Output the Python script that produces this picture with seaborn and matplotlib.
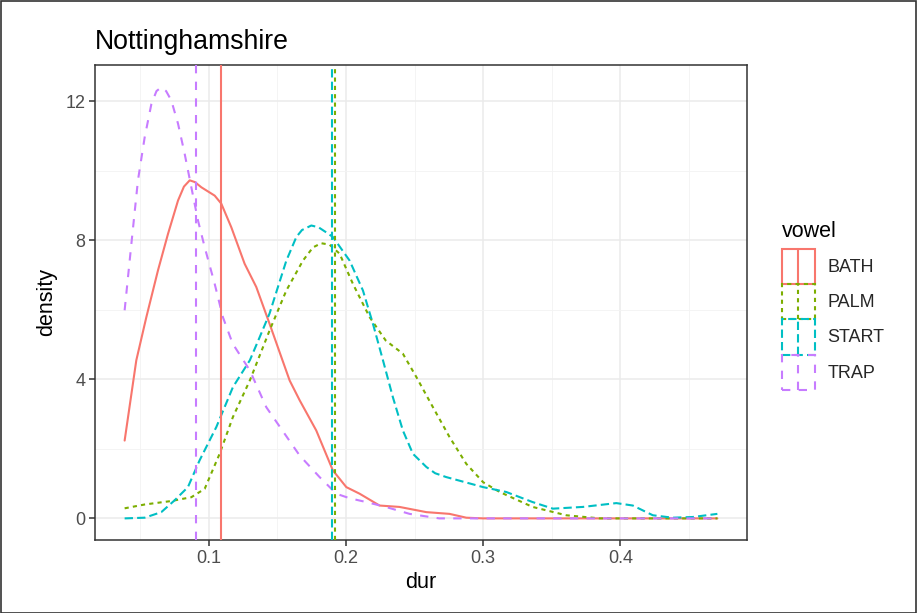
import numpy as np
import pandas as pd
import matplotlib
matplotlib.use("Agg")
import matplotlib.pyplot as plt
import seaborn as sns
from matplotlib.legend_handler import HandlerBase
from matplotlib.patches import Rectangle
from matplotlib.lines import Line2D

# ---------------- data ----------------
vowels = ["BATH", "PALM", "START", "TRAP"]
colors = ["#F8766D", "#7CAE00", "#00BFC4", "#C77CFF"]

bath_x = [0.0388, 0.0473, 0.0546, 0.0631, 0.0704, 0.0777, 0.082, 0.0862, 0.09, 0.0947,
          0.1044, 0.1092, 0.1165, 0.1262, 0.1347, 0.1444, 0.152, 0.159, 0.1663, 0.1784,
          0.1905, 0.2003, 0.21, 0.2245, 0.239, 0.2586, 0.2755, 0.2877, 0.30, 0.35,
          0.40, 0.4706]
bath_y = [2.24, 4.55, 5.79, 7.14, 8.19, 9.15, 9.55, 9.73, 9.68, 9.53,
          9.29, 9.06, 8.38, 7.33, 6.66, 5.60, 4.75, 3.97, 3.40, 2.53,
          1.38, 0.90, 0.71, 0.37, 0.33, 0.18, 0.13, 0.02, 0.0, 0.0,
          0.0, 0.0]

palm_x = [0.0388, 0.0534, 0.0728, 0.0874, 0.0971, 0.108, 0.1177, 0.13, 0.1444, 0.1566,
          0.1687, 0.176, 0.182, 0.188, 0.1954, 0.2051, 0.2173, 0.229, 0.2415, 0.2513,
          0.2634, 0.2755, 0.2877, 0.30, 0.312, 0.336, 0.3605, 0.385, 0.42, 0.4706]
palm_y = [0.29, 0.40, 0.50, 0.61, 0.85, 1.86, 2.92, 3.97, 5.41, 6.56,
          7.42, 7.80, 7.92, 7.88, 7.62, 6.75, 5.79, 5.12, 4.74, 4.07,
          3.20, 2.34, 1.57, 1.04, 0.76, 0.33, 0.09, 0.0, 0.0, 0.0]

start_x = [0.0388, 0.0534, 0.0655, 0.0752, 0.0849, 0.0934, 0.1056, 0.1177, 0.13, 0.137,
           0.1444, 0.150, 0.1566, 0.1639, 0.168, 0.1748, 0.18, 0.185, 0.1905, 0.2027,
           0.2124, 0.2197, 0.227, 0.2342, 0.2415, 0.2488, 0.2586, 0.265, 0.273, 0.30,
           0.3168, 0.336, 0.3508, 0.3726, 0.397, 0.409, 0.4236, 0.438, 0.4527, 0.4706]
start_y = [0.0, 0.02, 0.18, 0.52, 0.90, 1.67, 2.63, 3.78, 4.55, 5.20,
           5.90, 6.60, 7.42, 8.10, 8.30, 8.43, 8.38, 8.25, 8.10, 7.42,
           6.56, 5.60, 4.55, 3.49, 2.53, 1.86, 1.48, 1.30, 1.19, 0.90,
           0.76, 0.47, 0.28, 0.33, 0.44, 0.37, 0.09, 0.02, 0.04, 0.13]

trap_x = [0.0388, 0.0437, 0.0485, 0.0534, 0.0583, 0.062, 0.0656, 0.069, 0.0728, 0.0777,
          0.0825, 0.0874, 0.0922, 0.0971, 0.1044, 0.1104, 0.1175, 0.13, 0.142, 0.1663,
          0.1808, 0.193, 0.2027, 0.2148, 0.229, 0.2464, 0.268, 0.30, 0.35, 0.40, 0.4706]
trap_y = [5.99, 7.90, 9.73, 10.97, 11.93, 12.30, 12.41, 12.30, 12.03, 11.36,
          10.50, 9.53, 8.58, 7.81, 6.75, 5.79, 5.03, 4.26, 3.20, 1.81,
          1.19, 0.71, 0.58, 0.47, 0.33, 0.13, 0.0, 0.0, 0.0, 0.0, 0.0]

means = [0.1087, 0.1923, 0.1898, 0.0906]   # BATH, PALM, START, TRAP

x_ticks = [0.1, 0.2, 0.3, 0.4]
y_ticks = [0, 4, 8, 12]

# ---------------- frame ----------------
curves = {"BATH": (bath_x, bath_y), "PALM": (palm_x, palm_y),
          "START": (start_x, start_y), "TRAP": (trap_x, trap_y)}
df = pd.concat([pd.DataFrame({"dur": cx, "density": cy, "vowel": v})
                for v, (cx, cy) in curves.items()], ignore_index=True)

dash_map = {"BATH": "", "PALM": (2, 2), "START": (4, 2), "TRAP": (4, 4)}
ls_map = {"BATH": "-", "PALM": (0, (2, 2)), "START": (0, (4, 2)), "TRAP": (0, (4, 4))}
palette = dict(zip(vowels, colors))
LW = 1.5

sns.set_theme(style="white")
plt.rcParams["font.family"] = ["Liberation Sans", "DejaVu Sans"]

W, H = 917, 613
fig = plt.figure(figsize=(W / 100, H / 100), dpi=100)
L, R, T, B = 95, 747, 65, 540
ax = fig.add_axes([L / W, 1 - B / H, (R - L) / W, (B - T) / H])

sns.lineplot(data=df, x="dur", y="density", hue="vowel", style="vowel",
             hue_order=vowels, style_order=vowels, palette=palette,
             dashes=dash_map, estimator=None, sort=False, linewidth=LW,
             legend=False, ax=ax)

for v, m in zip(vowels, means):
    ax.axvline(m, color=palette[v], linestyle=ls_map[v], linewidth=LW, zorder=3)

# ggplot-like axes
xr = (0.0388, 0.4706)
xe = (xr[1] - xr[0]) * 0.05
ax.set_xlim(xr[0] - xe, xr[1] + xe)
ax.set_ylim(-0.622, 13.05)
ax.set_xticks(x_ticks)
ax.set_xticklabels([f"{t:g}" for t in x_ticks])
ax.set_yticks(y_ticks)
ax.set_yticklabels([str(t) for t in y_ticks])
ax.set_xticks([0.05, 0.15, 0.25, 0.35, 0.45], minor=True)
ax.set_yticks([2, 6, 10], minor=True)
ax.grid(True, which="major", color="#EBEBEB", linewidth=1.1, zorder=0)
ax.grid(True, which="minor", color="#F3F3F3", linewidth=0.6, zorder=0)
ax.set_axisbelow(True)
for s in ax.spines.values():
    s.set_color("#333333")
    s.set_linewidth(1.1)
ax.tick_params(axis="both", which="major", length=4, width=1.1, color="#333333",
               labelsize=13, labelcolor="#4D4D4D", pad=3, bottom=True, left=True)
ax.tick_params(axis="both", which="minor", length=0)
ax.set_xlabel("dur", fontsize=15.5, color="black", labelpad=4)
ax.set_ylabel("density", fontsize=15.5, color="black", labelpad=6)

fig.text(L / W, 1 - 49 / H, "Nottinghamshire", fontsize=19.2, color="black",
         ha="left", va="baseline")


class KeyHandler(HandlerBase):
    def create_artists(self, legend, orig_handle, xdescent, ydescent, width,
                       height, fontsize, trans):
        c = orig_handle.get_color()
        ls = ls_map[orig_handle.get_label()]
        x0, y0 = -xdescent, -ydescent
        rect = Rectangle((x0, y0), width, height, fill=False, edgecolor=c,
                         linewidth=LW, linestyle=ls, transform=trans)
        line = Line2D([x0 + width / 2] * 2, [y0, y0 + height], color=c,
                      linewidth=LW, linestyle=ls, transform=trans)
        return [rect, line]


handles = [Line2D([], [], color=palette[v], label=v) for v in vowels]
leg = fig.legend(handles=handles, labels=vowels,
                 loc="upper left", bbox_to_anchor=(782 / W, 1 - 249 / H),
                 bbox_transform=fig.transFigure, frameon=False,
                 fontsize=13, handlelength=1.80,
                 handleheight=2.62, handletextpad=0.70, labelspacing=0,
                 borderpad=0, borderaxespad=0,
                 handler_map={Line2D: KeyHandler()})
fig.text(782 / W, 1 - 237 / H, "vowel", fontsize=15.5, color="black",
         ha="left", va="baseline")

# outer frame of the picture
fig.add_artist(Rectangle((0.5 / W, 0.5 / H), 1 - 1.5 / W, 1 - 1.5 / H,
                         transform=fig.transFigure, fill=False,
                         edgecolor="#333333", linewidth=1.2))

fig.savefig("out.png", dpi=100)
